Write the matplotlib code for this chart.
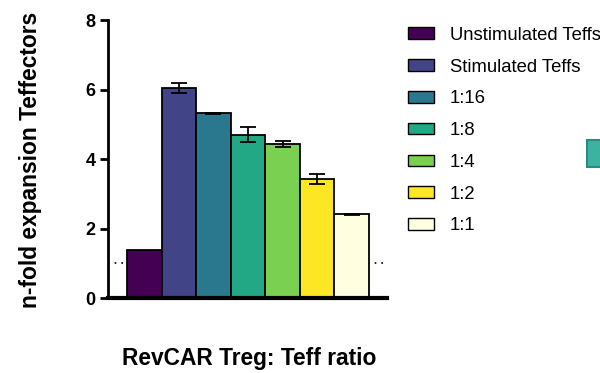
import matplotlib.pyplot as plt
from matplotlib.patches import Rectangle, Patch

plt.rcParams['font.family'] = ['Liberation Sans', 'DejaVu Sans']

groups = ['Unstimulated Teffs', 'Stimulated Teffs', '1:16', '1:8', '1:4', '1:2', '1:1']
means = [1.39, 6.04, 5.32, 4.70, 4.44, 3.43, 2.41]
errs = [0.0, 0.14, 0.01, 0.22, 0.08, 0.15, 0.01]
colors = ['#440154', '#414487', '#2a788e', '#22a884', '#7ad151', '#fde725', '#fffee0']
baseline = 1.0

fig = plt.figure(figsize=(6, 3.73), dpi=100)
ax = fig.add_axes([0.18, 0.201, 0.465, 0.745])

x = list(range(len(groups)))
ax.axhline(baseline, color='black', linestyle=(0, (1, 3)), linewidth=1.2, zorder=1)
ax.bar(x, means, width=1.0, color=colors, edgecolor='black', linewidth=1.3, zorder=2)
for i in x:
    if errs[i] > 0:
        ax.errorbar(i, means[i], yerr=errs[i], color='black', capsize=6,
                    capthick=1.3, elinewidth=1.3, zorder=3)

ax.set_xlim(-1.05, 7.02)
ax.set_ylim(0, 8)
ax.set_yticks([0, 2, 4, 6, 8])
ax.set_xticks([])
for s in ['top', 'right']:
    ax.spines[s].set_visible(False)
ax.spines['left'].set_linewidth(2)
ax.spines['bottom'].set_linewidth(3)
ax.tick_params(axis='y', width=2, length=6, labelsize=13, pad=3)
for lab in ax.get_yticklabels():
    lab.set_fontweight('bold')

fig.text(31 / 600, 1 - 160 / 373, 'n-fold expansion Teffectors', rotation=90,
         ha='center', va='center', fontsize=16.4, fontweight='bold')
fig.text(249 / 600, 1 - 358 / 373, 'RevCAR Treg: Teff ratio',
         ha='center', va='center', fontsize=16.4, fontweight='bold')

handles = [Patch(facecolor=c, edgecolor='black', linewidth=1.0) for c in colors]
fig.legend(handles, groups, loc='upper left', bbox_to_anchor=(0.668, 0.948),
           frameon=False, fontsize=13.3, handlelength=1.4, handleheight=0.6,
           handletextpad=0.85, labelspacing=0.80, borderaxespad=0)

# partial box at the right edge
fig.add_artist(Rectangle((0.978, 0.553), 0.03, 0.072, transform=fig.transFigure,
                         facecolor='#3bb3a0', edgecolor='#2a8c7e', linewidth=1.5))

fig.savefig('out.png', dpi=100)
